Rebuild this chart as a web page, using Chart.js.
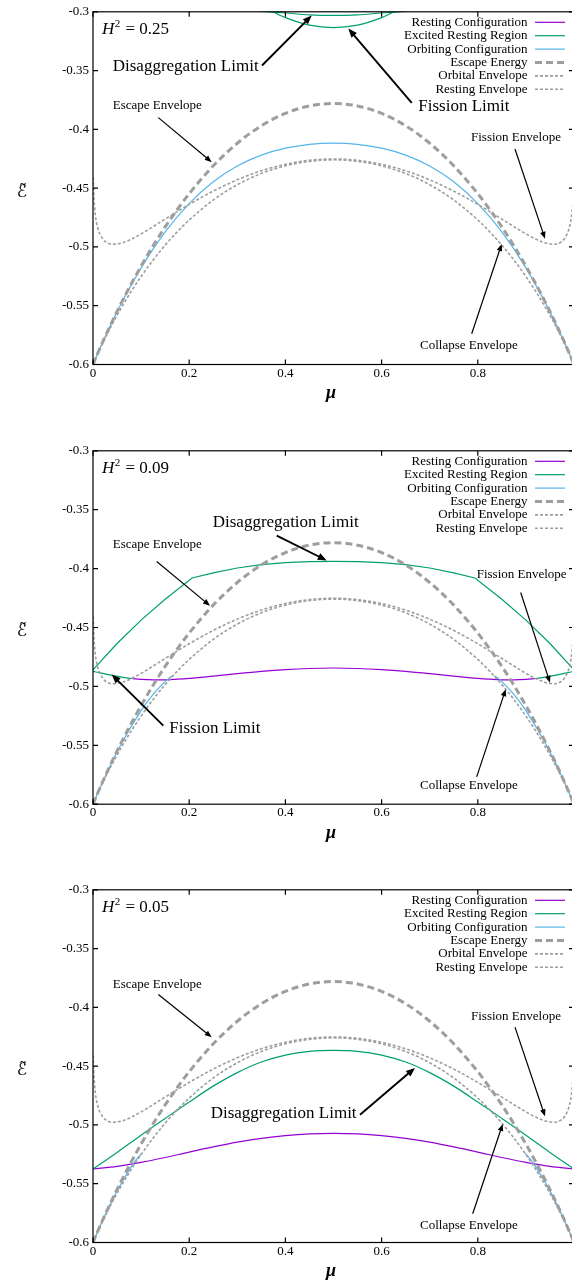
<!DOCTYPE html>
<html>
<head>
<meta charset="utf-8">
<script src="https://cdn.jsdelivr.net/npm/chart.js@4/dist/chart.umd.min.js"></script>
<style>
  html, body { margin: 0; padding: 0; background: #fff; width: 572px; height: 1285px; overflow: hidden; }
  canvas.panel { position: absolute; left: 0; }
</style>
</head>
<body>
<canvas id="p25" class="panel" width="576" height="439" style="top:0px"></canvas>
<canvas id="p09" class="panel" width="576" height="439" style="top:439px"></canvas>
<canvas id="p05" class="panel" width="576" height="407" style="top:878px"></canvas>
<script>
// mass fraction grid shared by the H-independent curves
const mu = [0, 0.0005, 0.001, 0.002, 0.005, 0.01, 0.02, 0.03, 0.04, 0.05, 0.06, 0.08, 0.1, 0.125, 0.15, 0.175, 0.2, 0.25, 0.3, 0.35, 0.4, 0.45,
            0.5,
            0.55, 0.6, 0.65, 0.7, 0.75, 0.8, 0.825, 0.85, 0.875, 0.9, 0.92, 0.94, 0.95, 0.96, 0.97, 0.98, 0.99, 0.995, 0.998, 0.999, 0.9995, 1];

const escapeEnergy = [-0.6, -0.5995, -0.599, -0.598, -0.5951, -0.5903, -0.581, -0.572, -0.5633, -0.5549, -0.5467, -0.5311, -0.5163, -0.499, -0.483, -0.4683, -0.4547, -0.431, -0.4118, -0.3969, -0.3864, -0.3801,
                      -0.378,
                      -0.3801, -0.3864, -0.3969, -0.4118, -0.431, -0.4547, -0.4683, -0.483, -0.499, -0.5163, -0.5311, -0.5467, -0.5549, -0.5633, -0.572, -0.581, -0.5903, -0.5951, -0.598, -0.599, -0.5995, -0.6];

const orbitalEnvelope = [-0.6, -0.5995, -0.599, -0.598, -0.5952, -0.5906, -0.5819, -0.5736, -0.5657, -0.5582, -0.551, -0.5375, -0.5252, -0.5111, -0.4985, -0.4872, -0.4771, -0.4601, -0.4471, -0.4375, -0.431, -0.4272,
                         -0.4259,
                         -0.4272, -0.431, -0.4375, -0.4471, -0.4601, -0.4771, -0.4872, -0.4985, -0.5111, -0.5252, -0.5375, -0.551, -0.5582, -0.5657, -0.5736, -0.5819, -0.5906, -0.5952, -0.598, -0.599, -0.5995, -0.6];

const restingEnvelope = [null, -0.4407, -0.4493, -0.459, -0.4732, -0.4839, -0.493, -0.4966, -0.4977, -0.4975, -0.4966, -0.4933, -0.4889, -0.4827, -0.4763, -0.47, -0.4638, -0.4525, -0.4429, -0.4352, -0.4297, -0.4263,
                         -0.4252,
                         -0.4263, -0.4297, -0.4352, -0.4429, -0.4525, -0.4638, -0.47, -0.4763, -0.4827, -0.4889, -0.4933, -0.4966, -0.4975, -0.4977, -0.4966, -0.493, -0.4839, -0.4732, -0.459, -0.4493, -0.4407, null];

// H^2 = 0.25
const orbitMu25 = [0, 0.02, 0.05, 0.1, 0.15, 0.2, 0.25, 0.3, 0.35, 0.4, 0.45, 0.5, 0.55, 0.6, 0.65, 0.7, 0.75, 0.8, 0.85, 0.9, 0.95, 0.98, 1];
const orbit25 = [-0.6, -0.5811, -0.5551, -0.5178, -0.4872, -0.4631, -0.4446, -0.4312, -0.4219, -0.416, -0.4127, -0.4117, -0.4127, -0.416, -0.4219, -0.4312, -0.4446, -0.4631, -0.4872, -0.5178, -0.5551, -0.5811, -0.6];
const fissionMu25 = [0.35, 0.374, 0.4, 0.45, 0.5, 0.55, 0.6, 0.626, 0.65];
const fission25 = [-0.2944, -0.3, -0.305, -0.3114, -0.3135, -0.3114, -0.305, -0.3, -0.2944];
const disaggMu25 = [0.35, 0.4, 0.45, 0.5, 0.55, 0.6, 0.65];
const disagg25 = [-0.2996, -0.301, -0.3026, -0.3031, -0.3026, -0.301, -0.2996];

// H^2 = 0.09
const restMu09 = [0.08, 0.1, 0.125, 0.15, 0.175, 0.2, 0.25, 0.3, 0.35, 0.4, 0.45, 0.5, 0.55, 0.6, 0.65, 0.7, 0.75, 0.8, 0.825, 0.85, 0.875, 0.9, 0.92];
const rest09 = [-0.4933, -0.494, -0.4944, -0.4944, -0.4939, -0.4932, -0.4913, -0.4892, -0.4873, -0.4858, -0.4848, -0.4844, -0.4848, -0.4858, -0.4873, -0.4892, -0.4913, -0.4932, -0.4939, -0.4944, -0.4944, -0.494, -0.4933];
const excitedMu09 = [0, 0.05, 0.1, 0.15, 0.206, 0.25, 0.3, 0.35, 0.4, 0.45, 0.5, 0.55, 0.6, 0.65, 0.7, 0.75, 0.794, 0.85, 0.9, 0.95, 1];
const excited09 = [-0.486, -0.4636, -0.4437, -0.426, -0.408, -0.4036, -0.3995, -0.3967, -0.3949, -0.3941, -0.3939, -0.3941, -0.3949, -0.3967, -0.3995, -0.4036, -0.408, -0.426, -0.4437, -0.4636, -0.486];
const fissionMu09 = [0, 0.02, 0.04, 0.06, 0.08, 0.5, 0.92, 0.94, 0.96, 0.98, 1];
const fission09 = [-0.4872, -0.489, -0.4907, -0.4922, -0.4933, null, -0.4933, -0.4922, -0.4907, -0.489, -0.4872];
const orbitMu09 = [0, 0.02, 0.05, 0.1, 0.125, 0.15, 0.16, 0.166, 0.5, 0.834, 0.84, 0.85, 0.875, 0.9, 0.95, 0.98, 1];
const orbit09 = [-0.6, -0.5811, -0.5555, -0.5205, -0.5068, -0.4959, -0.4925, -0.491, null, -0.491, -0.4925, -0.4959, -0.5068, -0.5205, -0.5555, -0.5811, -0.6];

// H^2 = 0.05
const restMu05 = [0, 0.05, 0.1, 0.15, 0.2, 0.25, 0.3, 0.35, 0.4, 0.45, 0.5, 0.55, 0.6, 0.65, 0.7, 0.75, 0.8, 0.85, 0.9, 0.95, 1];
const rest05 = [-0.5375, -0.5353, -0.5319, -0.5277, -0.5231, -0.5187, -0.5147, -0.5115, -0.5091, -0.5076, -0.5071, -0.5076, -0.5091, -0.5115, -0.5147, -0.5187, -0.5231, -0.5277, -0.5319, -0.5353, -0.5375];
const excited05 = [-0.5375, -0.5234, -0.5087, -0.4945, -0.4805, -0.467, -0.4555, -0.4465, -0.4406, -0.4374, -0.4366, -0.4374, -0.4406, -0.4465, -0.4555, -0.467, -0.4805, -0.4945, -0.5087, -0.5234, -0.5375];
const orbitMu05 = [0, 0.02, 0.05, 0.08, 0.09, 0.1, 0.1015, 0.5, 0.8985, 0.9, 0.91, 0.92, 0.95, 0.98, 1];
const orbit05 = [-0.6, -0.5811, -0.556, -0.5353, -0.5296, -0.5248, -0.5243, null, -0.5243, -0.5248, -0.5296, -0.5353, -0.556, -0.5811, -0.6];

const xTicks = [0, 0.2, 0.4, 0.6, 0.8];
const yTicks = [-0.6, -0.55, -0.5, -0.45, -0.4, -0.35, -0.3];

const serif = '"Liberation Serif", "DejaVu Serif", serif';
const gray = '#9e9e9e';

// legend order = gnuplot plot order; first entries drawn underneath
const lineStyles = {
  resting:    { label: 'Resting Configuration',  borderColor: '#9400d3', borderWidth: 1.2, borderDash: [],     order: 6 },
  excited:    { label: 'Excited Resting Region', borderColor: '#009e73', borderWidth: 1.2, borderDash: [],     order: 5 },
  orbiting:   { label: 'Orbiting Configuration', borderColor: '#56b4e9', borderWidth: 1.2, borderDash: [],     order: 4 },
  escape:     { label: 'Escape Energy',          borderColor: gray,      borderWidth: 3,   borderDash: [7, 4], order: 3 },
  orbitalEnv: { label: 'Orbital Envelope',       borderColor: gray,      borderWidth: 1.6, borderDash: [3, 2], order: 2 },
  restingEnv: { label: 'Resting Envelope',       borderColor: gray,      borderWidth: 1.6, borderDash: [3, 2], order: 1 }
};

function series(key, xs, ys, straight) {
  const s = lineStyles[key];
  return {
    label: s.label,
    data: xs.map((x, i) => ({ x: x, y: ys[i] })),
    borderColor: s.borderColor,
    borderWidth: s.borderWidth,
    borderDash: s.borderDash,
    order: s.order,
    pointRadius: 0,
    fill: false,
    spanGaps: false,
    tension: 0,
    cubicInterpolationMode: straight ? 'default' : 'monotone',
    clip: 0
  };
}

function commonSeries() {
  return [
    series('escape', mu, escapeEnergy),
    series('orbitalEnv', mu, orbitalEnvelope),
    series('restingEnv', mu, restingEnvelope)
  ];
}

// frame, inward ticks, key, labels and arrows
const panelDecor = {
  id: 'panelDecor',
  afterDatasetsDraw(chart, args, opts) {
    const ctx = chart.ctx;
    const a = chart.chartArea;
    const xs = chart.scales.x, ys = chart.scales.y;
    ctx.save();

    ctx.strokeStyle = '#000';
    ctx.lineWidth = 1.2;
    ctx.strokeRect(a.left, a.top, a.right - a.left, a.bottom - a.top);
    ctx.beginPath();
    xTicks.concat([1]).forEach(v => {
      const px = xs.getPixelForValue(v);
      ctx.moveTo(px, a.bottom); ctx.lineTo(px, a.bottom - 5);
      ctx.moveTo(px, a.top); ctx.lineTo(px, a.top + 5);
    });
    yTicks.forEach(v => {
      const py = ys.getPixelForValue(v);
      ctx.moveTo(a.left, py); ctx.lineTo(a.left + 5, py);
      ctx.moveTo(a.right, py); ctx.lineTo(a.right - 5, py);
    });
    ctx.stroke();

    // key in the top right corner, sample line right of the text
    ctx.font = '13px ' + serif;
    ctx.textBaseline = 'middle';
    ctx.textAlign = 'right';
    Object.keys(lineStyles).forEach((k, i) => {
      const s = lineStyles[k];
      const y = a.top + 10.5 + i * 13.4;
      ctx.fillStyle = '#000';
      ctx.fillText(s.label, a.right - 46.5, y);
      ctx.save();
      ctx.strokeStyle = s.borderColor;
      ctx.lineWidth = s.borderWidth;
      ctx.setLineDash(s.borderDash);
      ctx.beginPath();
      ctx.moveTo(a.right - 39, y);
      ctx.lineTo(a.right - 9, y);
      ctx.stroke();
      ctx.restore();
    });

    // H^2 label
    ctx.fillStyle = '#000';
    ctx.textAlign = 'left';
    ctx.textBaseline = 'alphabetic';
    let x = a.left + 9;
    const base = a.top + 22;
    ctx.font = 'italic 17px ' + serif;
    ctx.fillText('H', x, base);
    x += ctx.measureText('H').width + 0.5;
    ctx.font = '11px ' + serif;
    ctx.fillText('2', x, base - 7);
    x += ctx.measureText('2').width + 1;
    ctx.font = '17px ' + serif;
    ctx.fillText(' = ' + opts.h2, x, base);

    // axis titles
    ctx.textAlign = 'center';
    ctx.textBaseline = 'middle';
    ctx.font = 'italic bold 18px ' + serif;
    ctx.fillText('\u03bc', xs.getPixelForValue(0.495), a.bottom + 29);
    ctx.font = '17px "DejaVu Serif", "DejaVu Sans", serif';
    ctx.fillText('\u2130\u0303', 22, (a.top + a.bottom) / 2 + 4);

    // annotations with arrows
    (opts.notes || []).forEach(n => {
      ctx.font = n.size + 'px ' + serif;
      ctx.textAlign = 'left';
      ctx.textBaseline = 'middle';
      ctx.fillStyle = '#000';
      ctx.fillText(n.text, xs.getPixelForValue(n.at[0]), ys.getPixelForValue(n.at[1]));
      const x1 = xs.getPixelForValue(n.from[0]), y1 = ys.getPixelForValue(n.from[1]);
      const x2 = xs.getPixelForValue(n.to[0]), y2 = ys.getPixelForValue(n.to[1]);
      const ang = Math.atan2(y2 - y1, x2 - x1);
      const big = n.size > 14;
      const hl = big ? 9 : 7, hw = big ? 3.6 : 2.8;
      ctx.strokeStyle = '#000';
      ctx.lineWidth = big ? 1.9 : 1.2;
      ctx.beginPath();
      ctx.moveTo(x1, y1);
      ctx.lineTo(x2 - Math.cos(ang) * hl * 0.8, y2 - Math.sin(ang) * hl * 0.8);
      ctx.stroke();
      ctx.beginPath();
      ctx.moveTo(x2, y2);
      ctx.lineTo(x2 - Math.cos(ang) * hl - Math.sin(ang) * hw, y2 - Math.sin(ang) * hl + Math.cos(ang) * hw);
      ctx.lineTo(x2 - Math.cos(ang) * hl + Math.sin(ang) * hw, y2 - Math.sin(ang) * hl - Math.cos(ang) * hw);
      ctx.closePath();
      ctx.fillStyle = '#000';
      ctx.fill();
    });
    ctx.restore();
  }
};

function makePanel(id, padTop, h2, datasets, notes) {
  const canvas = document.getElementById(id);
  const plotHeight = 356.5;
  return new Chart(canvas.getContext('2d'), {
    type: 'line',
    data: { datasets: datasets },
    options: {
      responsive: false,
      animation: false,
      devicePixelRatio: 1,
      events: [],
      layout: { padding: { left: 0, right: 2, top: padTop, bottom: 0 } },
      plugins: {
        legend: { display: false },
        tooltip: { enabled: false },
        panelDecor: { h2: h2, notes: notes }
      },
      scales: {
        x: {
          type: 'linear', min: 0, max: 1,
          grid: { display: false, drawTicks: false },
          border: { display: false },
          afterBuildTicks: s => { s.ticks = xTicks.map(v => ({ value: v })); },
          afterFit: s => { s.height = canvas.height - padTop - plotHeight; },
          ticks: {
            padding: 1, color: '#000', maxRotation: 0,
            font: { family: serif, size: 13 },
            callback: v => String(+v.toFixed(2))
          }
        },
        y: {
          type: 'linear', min: -0.6, max: -0.3,
          grid: { display: false, drawTicks: false },
          border: { display: false },
          afterBuildTicks: s => { s.ticks = yTicks.map(v => ({ value: v })); },
          afterFit: s => { s.width = 93; },
          ticks: {
            padding: 4, color: '#000',
            font: { family: serif, size: 13 },
            callback: v => String(+v.toFixed(2))
          }
        }
      }
    },
    plugins: [panelDecor]
  });
}

makePanel('p25', 8, '0.25', [
  series('excited', fissionMu25, fission25),
  series('excited', disaggMu25, disagg25),
  series('orbiting', orbitMu25, orbit25)
].concat(commonSeries()), [
  { text: 'Disaggregation Limit', size: 17, at: [0.041, -0.3465], from: [0.3514, -0.3457], to: [0.4547, -0.3031] },
  { text: 'Fission Limit', size: 17, at: [0.6763, -0.3802], from: [0.6626, -0.3774], to: [0.5308, -0.3143] },
  { text: 'Escape Envelope', size: 13, at: [0.041, -0.3797], from: [0.1358, -0.39], to: [0.2468, -0.4279] },
  { text: 'Fission Envelope', size: 13, at: [0.7859, -0.4069], from: [0.8773, -0.4167], to: [0.9397, -0.493] },
  { text: 'Collapse Envelope', size: 13, at: [0.6798, -0.5842], from: [0.7873, -0.5738], to: [0.8497, -0.4975] }
]);

makePanel('p09', 8.7, '0.09', [
  series('resting', restMu09, rest09),
  series('excited', excitedMu09, excited09, true),
  series('excited', fissionMu09, fission09),
  series('orbiting', orbitMu09, orbit09)
].concat(commonSeries()), [
  { text: 'Disaggregation Limit', size: 17, at: [0.2489, -0.3608], from: [0.3819, -0.372], to: [0.4859, -0.3931] },
  { text: 'Escape Envelope', size: 13, at: [0.041, -0.38], from: [0.1324, -0.3939], to: [0.2432, -0.4315] },
  { text: 'Fission Envelope', size: 13, at: [0.7977, -0.4049], from: [0.8892, -0.4203], to: [0.9501, -0.4969] },
  { text: 'Fission Limit', size: 17, at: [0.1586, -0.5361], from: [0.1462, -0.5333], to: [0.0389, -0.4899] },
  { text: 'Collapse Envelope', size: 13, at: [0.6798, -0.5838], from: [0.7977, -0.5768], to: [0.858, -0.5025] }
]);

makePanel('p05', 8, '0.05', [
  series('resting', restMu05, rest05),
  series('excited', restMu05, excited05),
  series('orbiting', orbitMu05, orbit05)
].concat(commonSeries()), [
  { text: 'Escape Envelope', size: 13, at: [0.041, -0.381], from: [0.1358, -0.389], to: [0.2468, -0.4254] },
  { text: 'Fission Envelope', size: 13, at: [0.7859, -0.408], from: [0.8773, -0.4168], to: [0.9397, -0.4927] },
  { text: 'Disaggregation Limit', size: 17, at: [0.2447, -0.49], from: [0.5551, -0.4913], to: [0.6694, -0.4515] },
  { text: 'Collapse Envelope', size: 13, at: [0.6798, -0.5853], from: [0.7894, -0.5755], to: [0.8518, -0.4992] }
]);
</script>
</body>
</html>
